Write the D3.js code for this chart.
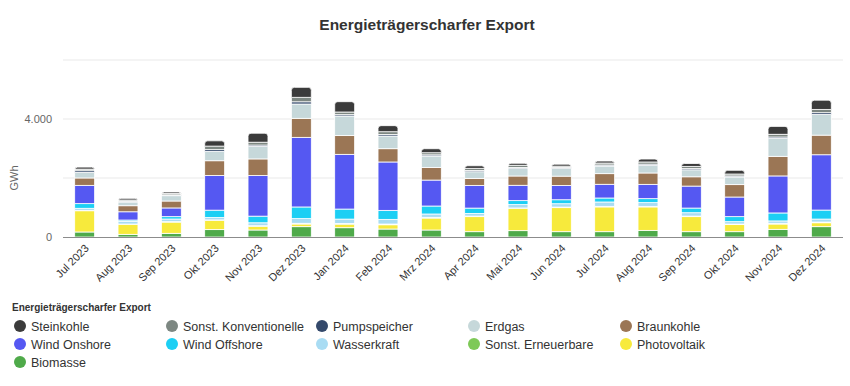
<!DOCTYPE html>
<html>
<head>
<meta charset="utf-8">
<script src="https://cdn.jsdelivr.net/npm/d3@7"></script>
<style>
  body { margin: 0; background: #fff; font-family: Arial, "Liberation Sans", Helvetica, sans-serif; }
  svg { display: block; }
</style>
</head>
<body>
<div id="chart"></div>
<script>
// Monthly export by energy source, GWh
const months = ['Jul 2023','Aug 2023','Sep 2023','Okt 2023','Nov 2023','Dez 2023','Jan 2024','Feb 2024','Mrz 2024',
                'Apr 2024','Mai 2024','Jun 2024','Jul 2024','Aug 2024','Sep 2024','Okt 2024','Nov 2024','Dez 2024'];

const steinkohle   = [68, 55, 50, 180, 305, 340, 350, 205, 135, 90, 68, 68, 68, 100, 100, 125, 270, 315];
const sonstKonv    = [55, 40, 45, 120, 95, 150, 90, 97, 73, 73, 73, 38, 65, 73, 73, 65, 90, 110];
const pumpspeicher = [55, 30, 30, 60, 50, 75, 45, 50, 40, 40, 40, 30, 35, 40, 40, 35, 45, 60];
const erdgas       = [190, 125, 180, 315, 420, 485, 665, 430, 385, 225, 250, 270, 260, 260, 237, 260, 610, 700];
const braunkohle   = [250, 205, 235, 500, 565, 645, 635, 450, 430, 237, 315, 315, 360, 385, 315, 420, 665, 665];
const windOnshore  = [620, 280, 295, 1175, 1375, 2360, 1855, 1640, 880, 770, 520, 485, 465, 485, 745, 665, 1255, 1875];
const windOffshore = [158, 45, 80, 250, 225, 395, 340, 305, 270, 180, 135, 135, 135, 135, 158, 170, 270, 305];
const wasserkraft  = [68, 90, 90, 80, 100, 158, 147, 158, 113, 90, 113, 113, 147, 125, 113, 80, 80, 100];
const sonstErn     = [15, 10, 15, 20, 20, 25, 25, 25, 25, 20, 20, 20, 20, 20, 20, 20, 25, 25];
const photovoltaik = [720, 340, 380, 310, 125, 90, 120, 145, 405, 510, 750, 815, 840, 795, 510, 240, 180, 133];
const biomasse     = [170, 90, 125, 250, 237, 350, 315, 270, 237, 180, 215, 180, 180, 225, 180, 180, 260, 350];

const yTicks = [0, 2000, 4000, 6000];
const yLabels = {0: '0', 4000: '4.000'};

// legend order = Highcharts series order (first series sits on top of the stack)
const series = [
  {name: 'Steinkohle', values: steinkohle, color: '#3b3b3b'},
  {name: 'Sonst. Konventionelle', values: sonstKonv, color: '#7d8782'},
  {name: 'Pumpspeicher', values: pumpspeicher, color: '#34496b'},
  {name: 'Erdgas', values: erdgas, color: '#c6d8da'},
  {name: 'Braunkohle', values: braunkohle, color: '#9b7655'},
  {name: 'Wind Onshore', values: windOnshore, color: '#5558f2'},
  {name: 'Wind Offshore', values: windOffshore, color: '#1ccff4'},
  {name: 'Wasserkraft', values: wasserkraft, color: '#a9dcf3'},
  {name: 'Sonst. Erneuerbare', values: sonstErn, color: '#7ec957'},
  {name: 'Photovoltaik', values: photovoltaik, color: '#f7ea3c'},
  {name: 'Biomasse', values: biomasse, color: '#4faa4a'}
];

const width = 850, height = 386;
const margin = {top: 60, left: 63, right: 7, bottom: 149};

const svg = d3.select('#chart').append('svg')
  .attr('width', width)
  .attr('height', height);

const x = d3.scaleBand()
  .domain(months)
  .range([margin.left, width - margin.right])
  .paddingInner(0.54)
  .paddingOuter(0.27);

const y = d3.scaleLinear()
  .domain([0, 6000])
  .range([height - margin.bottom, margin.top]);

// title
svg.append('text')
  .attr('x', width / 2 + 2)
  .attr('y', 30)
  .attr('text-anchor', 'middle')
  .style('font-size', '15.5px')
  .style('font-weight', 'bold')
  .style('fill', '#333')
  .text('Energieträgerscharfer Export');

// gridlines
svg.append('g').selectAll('line')
  .data(yTicks.filter(d => d > 0))
  .join('line')
  .attr('x1', margin.left)
  .attr('x2', width - margin.right)
  .attr('y1', d => y(d))
  .attr('y2', d => y(d))
  .attr('stroke', '#e9e9e9');

// y tick labels
svg.append('g').selectAll('text')
  .data(yTicks.filter(d => yLabels[d]))
  .join('text')
  .attr('x', 52)
  .attr('y', d => y(d) + 4)
  .attr('text-anchor', 'end')
  .style('font-size', '11px')
  .style('fill', '#666')
  .text(d => yLabels[d]);

svg.append('text')
  .attr('transform', `translate(18, ${y(2000)}) rotate(-90)`)
  .attr('text-anchor', 'middle')
  .style('font-size', '11px')
  .style('fill', '#666')
  .text('GWh');

// stacked data, bottom series first
const stackOrder = series.slice().reverse();
const stack = d3.stack()
  .keys(stackOrder.map(s => s.name))
  .value((i, key) => stackOrder.find(s => s.name === key).values[i]);
const stacked = stack(d3.range(months.length));

const topName = series[0].name;
const r = 3;

svg.append('g').selectAll('g')
  .data(stacked)
  .join('g')
  .attr('fill', d => stackOrder[d.index].color)
  .each(function(layer) {
    const g = d3.select(this);
    layer.forEach((d, i) => {
      const x0 = x(months[i]), w = x.bandwidth();
      const y0 = y(d[1]), y1 = y(d[0]);
      if (layer.key === topName) {
        g.append('path')
          .attr('d', `M${x0},${y1} V${y0 + r} Q${x0},${y0} ${x0 + r},${y0} H${x0 + w - r} Q${x0 + w},${y0} ${x0 + w},${y0 + r} V${y1} Z`)
          .attr('stroke', '#fff')
          .attr('stroke-width', 0.8);
      } else {
        g.append('rect')
          .attr('x', x0)
          .attr('y', y0)
          .attr('width', w)
          .attr('height', Math.max(0, y1 - y0))
          .attr('stroke', '#fff')
          .attr('stroke-width', 0.8);
      }
    });
  });

// x axis line
svg.append('line')
  .attr('x1', margin.left)
  .attr('x2', width - margin.right)
  .attr('y1', y(0) + 0.5)
  .attr('y2', y(0) + 0.5)
  .attr('stroke', '#8c8c8c')
  .attr('stroke-width', 1.2);

// x labels, rotated
svg.append('g').selectAll('text')
  .data(months)
  .join('text')
  .attr('transform', d => `translate(${x(d) + x.bandwidth() / 2 + 5}, ${y(0) + 12}) rotate(-45)`)
  .attr('text-anchor', 'end')
  .style('font-size', '11px')
  .style('fill', '#333')
  .text(d => d);

// legend
const legend = svg.append('g');
legend.append('text')
  .attr('x', 12)
  .attr('y', 311)
  .style('font-size', '10px')
  .style('font-weight', 'bold')
  .style('fill', '#333')
  .text('Energieträgerscharfer Export');

const colX = [20, 172, 322, 474, 626];
const item = legend.selectAll('g.item')
  .data(series)
  .join('g')
  .attr('class', 'item')
  .attr('transform', (d, i) => `translate(${colX[i % 5]}, ${326 + Math.floor(i / 5) * 18})`);

item.append('circle')
  .attr('r', 6)
  .attr('fill', d => d.color);

item.append('text')
  .attr('x', 11)
  .attr('y', 4.5)
  .style('font-size', '12.5px')
  .style('fill', '#333')
  .text(d => d.name);
</script>
</body>
</html>
